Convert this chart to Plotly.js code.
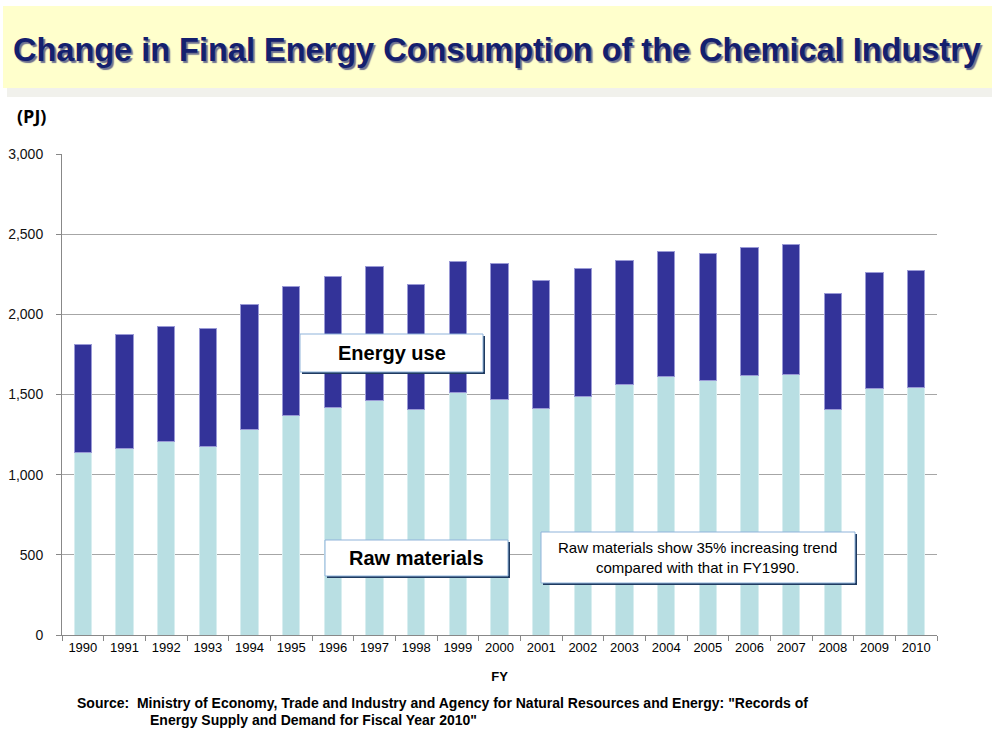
<!DOCTYPE html>
<html>
<head>
<meta charset="utf-8">
<script src="https://cdn.plot.ly/plotly-3.0.1.min.js"></script>
<style>html,body{margin:0;padding:0;background:#fff;}#chart{width:992px;height:729px;}</style>
</head>
<body>
<div id="chart"></div>
<script>
const years = ["1990","1991","1992","1993","1994","1995","1996","1997","1998","1999","2000","2001","2002","2003","2004","2005","2006","2007","2008","2009","2010"];
const rawMaterials = [1140,1165,1206,1175,1283,1372,1416,1464,1408,1510,1468,1410,1489,1561,1611,1585,1620,1622,1408,1539,1541];
const energyUse = [671,711,717,736,778,799,817,836,775,817,846,803,794,776,784,792,796,813,724,724,734];
const yTicks = [0,500,1000,1500,2000,2500,3000];
const yTickLabels = ["0","500","1,000","1,500","2,000","2,500","3,000"];

const narrow = "'Liberation Sans Narrow', 'Arial Narrow', Arial, 'Liberation Sans', sans-serif";
const arial = "Arial, 'Liberation Sans', sans-serif";

const traces = [
  {type:'bar', x:years, y:rawMaterials, name:'Raw materials',
   marker:{color:'#b9dfe3', line:{color:'#d8eef0', width:1}}},
  {type:'bar', x:years, y:energyUse, name:'Energy use',
   marker:{color:'#333399', line:{color:'#9a9ad6', width:1}}}
];

// pixel helpers -> paper coords (plot area 62..937 x, 154..635 y)
const L=62, R=937, T=154, B=635;
const px = v => (v-L)/(R-L);
const py = v => (B-v)/(B-T);

function boxShapes(x0,y0,x1,y1){
  return [
    {type:'rect', xref:'paper', yref:'paper', x0:px(x0+2), x1:px(x1+2), y0:py(y1+2), y1:py(y0+2),
     fillcolor:'#1f3a60', line:{width:0}, layer:'above'},
    {type:'rect', xref:'paper', yref:'paper', x0:px(x0), x1:px(x1), y0:py(y1), y1:py(y0),
     fillcolor:'#ffffff', line:{color:'#8fb3da', width:1}, layer:'above'}
  ];
}

const shapes = [
  {type:'rect', xref:'paper', yref:'paper', x0:px(7), x1:px(992), y0:py(97), y1:py(86),
   fillcolor:'#f1f1ec', line:{width:0}, layer:'below'},
  {type:'rect', xref:'paper', yref:'paper', x0:px(3), x1:px(992), y0:py(88), y1:py(6),
   fillcolor:'#ffffcc', line:{width:0}, layer:'below'},
  ...boxShapes(300,334,483,372),
  ...boxShapes(325,540,508,576),
  ...boxShapes(541,532,855,583)
];

const titleText = "Change in Final Energy Consumption of the Chemical Industry";
const annotations = [
  {xref:'paper', yref:'paper', x:px(497), y:py(50), text:titleText, showarrow:false,
   font:{family:arial, size:32.5, color:'#14206e', weight:'bold', shadow:'2px 2px 1px #6f7290'},
   xanchor:'center', yanchor:'middle'},
  {xref:'paper', yref:'paper', x:px(31), y:py(116), text:'(PJ)', showarrow:false,
   font:{family:"'Open Sans', sans-serif", size:18, color:'#000', weight:'bold'}, xanchor:'center', yanchor:'middle'},
  {xref:'paper', yref:'paper', x:px(391.5), y:py(353), text:'Energy use', showarrow:false,
   font:{family:arial, size:20, color:'#000', weight:'bold'}, xanchor:'center', yanchor:'middle'},
  {xref:'paper', yref:'paper', x:px(416.5), y:py(558), text:'Raw materials', showarrow:false,
   font:{family:arial, size:20, color:'#000', weight:'bold'}, xanchor:'center', yanchor:'middle'},
  {xref:'paper', yref:'paper', x:px(697), y:py(557.5), text:'Raw materials show 35% increasing trend<br>compared with that in FY1990.', showarrow:false,
   font:{family:narrow, size:15, color:'#000'}, xanchor:'center', yanchor:'middle', align:'center'},
  {xref:'paper', yref:'paper', x:px(75), y:py(703), text:'Source:  Ministry of Economy, Trade and Industry and Agency for Natural Resources and Energy: "Records of', showarrow:false,
   font:{family:narrow, size:14, color:'#000', weight:'bold'}, xanchor:'left', yanchor:'middle'},
  {xref:'paper', yref:'paper', x:px(148), y:py(720), text:'Energy Supply and Demand for Fiscal Year 2010"', showarrow:false,
   font:{family:narrow, size:14, color:'#000', weight:'bold'}, xanchor:'left', yanchor:'middle'}
];

const layout = {
  width:992, height:729,
  margin:{l:L, r:992-R, t:T, b:729-B, pad:0},
  paper_bgcolor:'#ffffff', plot_bgcolor:'#ffffff',
  barmode:'stack', bargap:0.59,
  showlegend:false,
  font:{family:arial, color:'#000'},
  xaxis:{type:'category', showgrid:false, showline:true, linecolor:'#888', linewidth:1,
    ticks:'outside', tickson:'boundaries', ticklen:5, tickcolor:'#888',
    tickfont:{family:narrow, size:13, color:'#000'},
    title:{text:'FY', font:{family:narrow, size:13, color:'#000', weight:'bold'}, standoff:18}},
  yaxis:{range:[0,3000], tickvals:yTicks, ticktext:yTickLabels, showgrid:true, gridcolor:'#a6a6a6', gridwidth:1,
    showline:true, linecolor:'#888', linewidth:1, ticks:'outside', ticklen:5, tickcolor:'#888',
    ticklabelstandoff:10,
    tickfont:{family:arial, size:14, color:'#111'}, zeroline:false},
  shapes:shapes,
  annotations:annotations
};

Plotly.newPlot('chart', traces, layout, {displayModeBar:false, staticPlot:true});
</script>
</body>
</html>
